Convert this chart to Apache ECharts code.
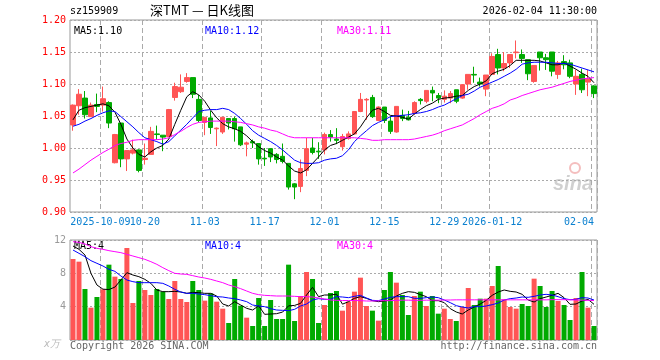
<!DOCTYPE html>
<html><head><meta charset="utf-8">
<script src="https://cdn.jsdelivr.net/npm/echarts@6/dist/echarts.min.js"></script>
<style>html,body{margin:0;padding:0;background:#fff}#c{width:660px;height:360px}</style>
</head><body><div id="c"></div>
<script>
const dates = ['2025-09-24','2025-09-25','2025-09-26','2025-09-29','2025-09-30',
 '2025-10-09','2025-10-10','2025-10-13','2025-10-14','2025-10-15','2025-10-16','2025-10-17',
 '2025-10-20','2025-10-21','2025-10-22','2025-10-23','2025-10-24','2025-10-27','2025-10-28','2025-10-29','2025-10-30','2025-10-31',
 '2025-11-03','2025-11-04','2025-11-05','2025-11-06','2025-11-07','2025-11-10','2025-11-11','2025-11-12','2025-11-13','2025-11-14',
 '2025-11-17','2025-11-18','2025-11-19','2025-11-20','2025-11-21','2025-11-24','2025-11-25','2025-11-26','2025-11-27','2025-11-28',
 '2025-12-01','2025-12-02','2025-12-03','2025-12-04','2025-12-05','2025-12-08','2025-12-09','2025-12-10','2025-12-11','2025-12-12',
 '2025-12-15','2025-12-16','2025-12-17','2025-12-18','2025-12-19','2025-12-22','2025-12-23','2025-12-24','2025-12-25','2025-12-26',
 '2025-12-29','2025-12-30','2025-12-31',
 '2026-01-05','2026-01-06','2026-01-07','2026-01-08','2026-01-09','2026-01-12','2026-01-13','2026-01-14','2026-01-15','2026-01-16',
 '2026-01-19','2026-01-20','2026-01-21','2026-01-22','2026-01-23','2026-01-26','2026-01-27','2026-01-28','2026-01-29','2026-01-30',
 '2026-02-02','2026-02-03','2026-02-04'];

const opens = [1.036,1.066,1.078,1.049,1.068,1.067,1.071,0.977,1.039,0.983,
 0.992,0.997,0.982,0.990,1.022,1.020,1.018,1.079,1.088,1.104,
 1.110,1.076,1.040,1.047,1.030,1.025,1.046,1.046,1.033,1.006,
 1.010,1.007,0.984,0.999,0.990,0.987,0.976,0.944,0.940,0.965,
 1.000,0.995,0.997,1.021,1.014,1.002,1.015,1.022,1.057,1.075,
 1.079,1.043,1.064,1.042,1.025,1.051,1.048,1.054,1.076,1.073,
 1.090,1.082,1.076,1.078,1.091,1.078,1.100,1.115,1.103,1.092,
 1.115,1.146,1.125,1.133,1.149,1.146,1.138,1.104,1.150,1.141,
 1.150,1.115,1.135,1.133,1.100,1.115,1.103,1.097];
const closes = [1.067,1.084,1.052,1.067,1.065,1.077,1.039,1.021,0.983,0.996,
 0.997,0.965,0.984,1.026,1.021,1.017,1.060,1.096,1.095,1.110,
 1.084,1.043,1.048,1.032,1.031,1.048,1.039,1.030,1.005,1.008,
 1.008,0.983,0.983,0.986,0.982,0.979,0.939,0.939,0.968,0.999,
 0.993,0.994,1.021,1.017,1.012,1.018,1.022,1.057,1.076,1.076,
 1.049,1.064,1.043,1.026,1.065,1.046,1.044,1.071,1.074,1.090,
 1.086,1.078,1.081,1.085,1.073,1.099,1.115,1.114,1.100,1.114,
 1.143,1.125,1.132,1.146,1.150,1.140,1.116,1.129,1.141,1.138,
 1.120,1.133,1.130,1.112,1.112,1.091,1.108,1.085];
const lows = [1.027,1.052,1.046,1.049,1.056,1.057,1.031,0.976,0.970,0.964,
 0.990,0.962,0.974,0.990,1.013,0.995,1.017,1.074,1.086,1.102,
 1.078,1.040,1.020,1.022,1.003,1.022,1.029,1.010,1.003,0.987,
 1.000,0.974,0.972,0.978,0.976,0.976,0.935,0.920,0.931,0.956,
 0.990,0.983,0.990,1.010,1.006,0.996,1.013,1.021,1.056,1.044,
 1.047,1.042,1.039,1.022,1.024,1.042,1.043,1.052,1.068,1.070,
 1.073,1.070,1.071,1.070,1.070,1.077,1.091,1.102,1.096,1.081,
 1.115,1.115,1.120,1.125,1.140,1.133,1.106,1.102,1.121,1.122,
 1.112,1.108,1.123,1.109,1.083,1.086,1.081,1.078];
const highs = [1.068,1.092,1.089,1.071,1.085,1.096,1.073,1.022,1.039,0.996,
 1.013,0.998,1.007,1.033,1.035,1.020,1.061,1.102,1.115,1.117,
 1.110,1.083,1.048,1.058,1.032,1.048,1.046,1.049,1.033,1.010,
 1.013,1.007,1.000,0.999,0.992,1.007,0.976,0.945,0.982,1.016,
 1.016,1.009,1.024,1.028,1.031,1.022,1.026,1.057,1.086,1.078,
 1.083,1.065,1.064,1.050,1.065,1.060,1.058,1.073,1.078,1.090,
 1.096,1.086,1.090,1.089,1.091,1.100,1.115,1.127,1.110,1.114,
 1.148,1.155,1.150,1.146,1.168,1.154,1.138,1.129,1.150,1.147,
 1.150,1.136,1.145,1.138,1.122,1.124,1.122,1.098];

const ma5 = [1.044,1.059,1.063,1.065,1.067,1.069,1.066,1.056,1.037,1.014,
 1.000,0.990,0.986,0.994,1.000,1.004,1.014,1.037,1.059,1.080,
 1.088,1.083,1.073,1.059,1.047,1.038,1.033,1.030,1.026,1.019,
 1.010,1.002,0.996,0.992,0.986,0.981,0.972,0.964,0.961,0.966,
 0.976,0.986,0.997,1.004,1.007,1.012,1.017,1.022,1.033,1.047,
 1.059,1.062,1.057,1.051,1.050,1.048,1.045,1.053,1.060,1.066,
 1.070,1.076,1.078,1.079,1.081,1.082,1.090,1.096,1.100,1.105,
 1.116,1.120,1.123,1.129,1.137,1.137,1.137,1.137,1.136,1.133,
 1.130,1.130,1.133,1.128,1.123,1.117,1.112,1.102];
const ma10 = [1.034,1.037,1.042,1.046,1.051,1.055,1.058,1.057,1.049,1.041,
 1.033,1.024,1.016,1.013,1.010,1.006,1.010,1.019,1.028,1.037,
 1.047,1.057,1.059,1.060,1.060,1.062,1.060,1.054,1.046,1.037,
 1.027,1.020,1.015,1.010,1.004,0.997,0.989,0.981,0.977,0.976,
 0.976,0.977,0.981,0.983,0.984,0.988,0.997,1.010,1.019,1.027,
 1.035,1.040,1.044,1.049,1.050,1.051,1.052,1.054,1.055,1.057,
 1.060,1.064,1.067,1.072,1.077,1.082,1.084,1.089,1.095,1.099,
 1.103,1.107,1.112,1.117,1.123,1.131,1.133,1.134,1.134,1.134,
 1.133,1.132,1.132,1.131,1.128,1.125,1.122,1.119];
const ma30 = [0.961,0.967,0.974,0.981,0.987,0.993,0.998,1.004,1.007,1.009,
 1.012,1.013,1.013,1.013,1.013,1.014,1.016,1.021,1.026,1.032,
 1.037,1.040,1.041,1.042,1.042,1.042,1.042,1.041,1.040,1.038,
 1.036,1.033,1.031,1.028,1.026,1.022,1.018,1.016,1.016,1.016,
 1.016,1.016,1.016,1.016,1.016,1.016,1.016,1.016,1.015,1.014,
 1.012,1.012,1.013,1.013,1.013,1.013,1.013,1.014,1.016,1.018,
 1.020,1.023,1.027,1.030,1.033,1.036,1.041,1.046,1.052,1.057,
 1.062,1.065,1.069,1.075,1.078,1.082,1.085,1.088,1.091,1.093,
 1.095,1.098,1.101,1.104,1.106,1.108,1.109,1.110];

const volumes = [9.72,9.40,6.12,3.88,5.16,6.08,9.04,7.60,7.32,11.04,
 4.44,7.08,6.00,5.40,6.12,5.80,4.92,7.08,4.92,4.56,
 7.08,6.00,4.72,5.60,4.60,3.76,2.04,7.32,4.12,2.68,
 1.68,5.04,1.68,4.80,2.52,2.52,9.04,2.28,5.28,8.16,
 7.32,2.04,4.20,5.64,5.88,3.52,4.60,5.80,7.48,4.08,
 3.52,2.32,6.00,8.16,6.88,5.40,3.00,5.28,5.80,4.08,
 5.28,3.16,3.76,2.52,2.28,3.96,6.24,4.20,4.96,4.96,
 6.48,8.88,4.88,3.96,3.76,4.32,4.08,7.36,6.48,3.96,
 5.88,4.68,4.20,2.40,5.04,8.16,3.88,1.68];
const vma5 = [11.28,10.88,10.2,8.0,6.6,6.1,6.05,6.35,7.2,8.08,
 7.8,7.6,7.28,6.8,6.0,5.8,5.8,5.84,5.76,5.6,
 5.72,5.68,5.6,5.6,5.28,4.32,4.08,4.6,4.2,3.8,
 3.6,4.1,3.08,3.12,3.16,3.35,4.1,4.15,4.4,5.4,
 6.32,5.2,5.4,5.4,5.5,4.3,4.6,5.0,5.2,5.0,
 4.72,4.6,4.68,4.8,5.28,5.6,5.8,5.72,5.45,5.2,
 4.72,4.72,4.48,3.76,3.36,3.12,3.6,3.96,4.32,4.76,
 5.36,5.76,6.0,5.84,5.76,5.48,4.8,4.56,4.96,5.16,
 5.36,5.6,5.08,4.28,4.32,4.68,4.88,4.28];
const vma10 = [10.8,10.4,10.0,9.52,9.2,8.88,8.48,8.24,7.68,7.2,
 7.0,6.88,6.88,6.88,6.88,6.8,6.48,6.08,5.76,5.6,
 5.6,5.52,5.44,5.32,5.2,5.16,5.04,4.96,4.8,4.6,
 4.2,4.08,4.0,3.76,3.6,3.56,3.52,3.68,4.08,4.32,
 4.8,4.96,4.88,4.88,5.2,5.16,5.08,5.24,5.36,5.04,
 4.76,4.72,4.92,5.12,5.2,5.2,5.2,5.0,5.0,5.08,
 5.16,5.08,4.8,4.48,4.12,3.96,3.84,4.0,4.0,4.08,
 4.24,4.44,4.8,4.96,5.04,5.16,5.12,5.24,5.4,5.48,
 5.4,5.2,4.96,4.84,4.88,5.08,5.04,4.8];
const vma30 = [11.8,11.72,11.52,11.2,11.0,10.88,10.72,10.6,10.48,10.28,
 10.08,9.88,9.68,9.4,9.08,8.68,8.32,8.0,7.92,7.88,
 7.72,7.56,7.44,7.28,7.08,6.88,6.6,6.4,6.16,5.88,
 5.6,5.44,5.36,5.32,5.28,5.28,5.28,5.24,5.2,5.2,
 5.16,5.04,4.92,4.8,4.76,4.74,4.74,4.74,4.72,4.68,
 4.68,4.7,4.72,4.72,4.76,4.78,4.78,4.76,4.76,4.78,
 4.78,4.78,4.8,4.8,4.82,4.82,4.82,4.82,4.82,4.82,
 4.82,4.82,4.82,4.82,4.82,4.82,4.82,4.82,4.82,4.82,
 4.84,4.84,4.84,4.82,4.8,4.78,4.76,4.74];

const tickDates = ['2025-10-09','2025-10-20','2025-11-03','2025-11-17','2025-12-01','2025-12-15','2025-12-29','2026-01-12','2026-02-04'];
const tickTexts = ['2025-10-09','10-20','11-03','11-17','12-01','12-15','12-29','2026-01-12','02-04'];
const priceTicks = {min: 0.90, max: 1.20, step: 0.05};
const volTicks = {min: 0, max: 12, step: 4};

const UP = '#ff5555', DOWN = '#00aa00';
const MONO = '"DejaVu Sans Mono", "Liberation Mono", monospace';
const isTick = (idx, val) => tickDates.indexOf(val !== undefined ? val : dates[idx]) >= 0;

const chart = echarts.init(document.getElementById('c'), null, {renderer: 'canvas'});
const gridCommon = {left: 70, width: 527, show: true, borderColor: '#999', borderWidth: 1, backgroundColor: 'transparent'};
const xCommon = {
  type: 'category', data: dates, boundaryGap: true,
  axisLine: {show: false}, axisTick: {show: false},
  splitLine: {show: true, interval: (i, v) => isTick(i, v), lineStyle: {color: '#aaa', type: [5, 3], width: 1}}
};
const option = {
  animation: false,
  grid: [Object.assign({top: 20, height: 192}, gridCommon), Object.assign({top: 240, height: 100}, gridCommon)],
  xAxis: [
    Object.assign({gridIndex: 0, axisLabel: {
      show: true, interval: 0, margin: 5, hideOverlap: false,
      color: '#0b80d0', fontSize: 10, fontFamily: MONO,
      formatter: (v) => {
        const k = tickDates.indexOf(v); if (k < 0) return '';
        if (k === 0) return '{first|' + tickTexts[k] + '}';
        if (k === tickDates.length - 1) return '{last|' + tickTexts[k] + '}';
        return tickTexts[k];
      },
      rich: {
        first: {color: '#0b80d0', fontSize: 10, fontFamily: MONO, padding: [0, 5, 0, 0]},
        last: {color: '#0b80d0', fontSize: 10, fontFamily: MONO, padding: [0, 30, 0, 0]}
      }
    }}, xCommon),
    Object.assign({gridIndex: 1, axisLabel: {show: false}}, xCommon)
  ],
  yAxis: [
    {gridIndex: 0, type: 'value', min: priceTicks.min, max: priceTicks.max, interval: priceTicks.step,
     axisLine: {show: false}, axisTick: {show: false},
     axisLabel: {color: '#ff0000', fontSize: 10, fontFamily: MONO, margin: 4, formatter: v => v.toFixed(2)},
     splitLine: {show: true, lineStyle: {color: '#aaa', type: [2, 2]}}},
    {gridIndex: 1, type: 'value', min: volTicks.min, max: volTicks.max, interval: volTicks.step,
     axisLine: {show: false}, axisTick: {show: false},
     axisLabel: {color: '#999', fontSize: 10, fontFamily: MONO, margin: 4,
       formatter: v => v === 0 ? '{u|x万}' : String(v),
       rich: {u: {color: '#bbb', fontStyle: 'italic', fontSize: 10, padding: [8, 6, 0, 0]}}},
     splitLine: {show: true, lineStyle: {color: '#aaa', type: [2, 2]}}}
  ],
  series: [
    {type: 'candlestick', xAxisIndex: 0, yAxisIndex: 0, barWidth: 5,
     data: dates.map((d, i) => [opens[i], closes[i], lows[i], highs[i]]),
     itemStyle: {color: UP, color0: DOWN, borderColor: UP, borderColor0: DOWN, borderWidth: 1}},
    {type: 'line', name: 'MA5', xAxisIndex: 0, yAxisIndex: 0, data: ma5, symbol: 'none', lineStyle: {color: '#000', width: 1}},
    {type: 'line', name: 'MA10', xAxisIndex: 0, yAxisIndex: 0, data: ma10, symbol: 'none', lineStyle: {color: '#0000ff', width: 1}},
    {type: 'line', name: 'MA30', xAxisIndex: 0, yAxisIndex: 0, data: ma30, symbol: 'none', lineStyle: {color: '#ff00ff', width: 1}},
    {type: 'bar', xAxisIndex: 1, yAxisIndex: 1, barWidth: 5,
     data: volumes.map((v, i) => ({value: v, itemStyle: {color: closes[i] >= opens[i] ? UP : DOWN}}))},
    {type: 'line', xAxisIndex: 1, yAxisIndex: 1, data: vma5, symbol: 'none', lineStyle: {color: '#000', width: 1}},
    {type: 'line', xAxisIndex: 1, yAxisIndex: 1, data: vma10, symbol: 'none', lineStyle: {color: '#0000ff', width: 1}},
    {type: 'line', xAxisIndex: 1, yAxisIndex: 1, data: vma30, symbol: 'none', lineStyle: {color: '#ff00ff', width: 1}}
  ],
  graphic: [
    {type: 'text', left: 70, top: 6, style: {text: 'sz159909', fill: '#000', font: '10px ' + MONO}},
    {type: 'text', left: 150, top: 4, style: {text: '深TMT — 日K线图', fill: '#000', font: '13px "Noto Sans CJK SC"'}},
    {type: 'text', right: 63, top: 6, style: {text: '2026-02-04 11:30:00', fill: '#000', font: '10px ' + MONO}},
    {type: 'text', left: 74, top: 26, style: {text: 'MA5:1.10', fill: '#000', font: '10px ' + MONO}},
    {type: 'text', left: 205, top: 26, style: {text: 'MA10:1.12', fill: '#0000ff', font: '10px ' + MONO}},
    {type: 'text', left: 337, top: 26, style: {text: 'MA30:1.11', fill: '#ff00ff', font: '10px ' + MONO}},
    {type: 'text', left: 74, top: 241, style: {text: 'MA5:4', fill: '#000', font: '10px ' + MONO}},
    {type: 'text', left: 205, top: 241, style: {text: 'MA10:4', fill: '#0000ff', font: '10px ' + MONO}},
    {type: 'text', left: 337, top: 241, style: {text: 'MA30:4', fill: '#ff00ff', font: '10px ' + MONO}},
    {type: 'text', left: 70, top: 341, style: {text: 'Copyright 2026 SINA.COM', fill: '#666', font: '10px ' + MONO}},
    {type: 'text', right: 63, top: 341, style: {text: 'http://finance.sina.com.cn', fill: '#666', font: '10px ' + MONO}},
    {type: 'circle', shape: {cx: 575, cy: 168, r: 5}, style: {fill: 'none', stroke: 'rgba(230,110,110,0.45)', lineWidth: 2}},
    {type: 'text', left: 553, top: 174, style: {text: 'sina', fill: 'rgba(150,150,150,0.45)', font: 'italic bold 20px "Liberation Sans"'}}
  ]
};
chart.setOption(option);
</script></body></html>
